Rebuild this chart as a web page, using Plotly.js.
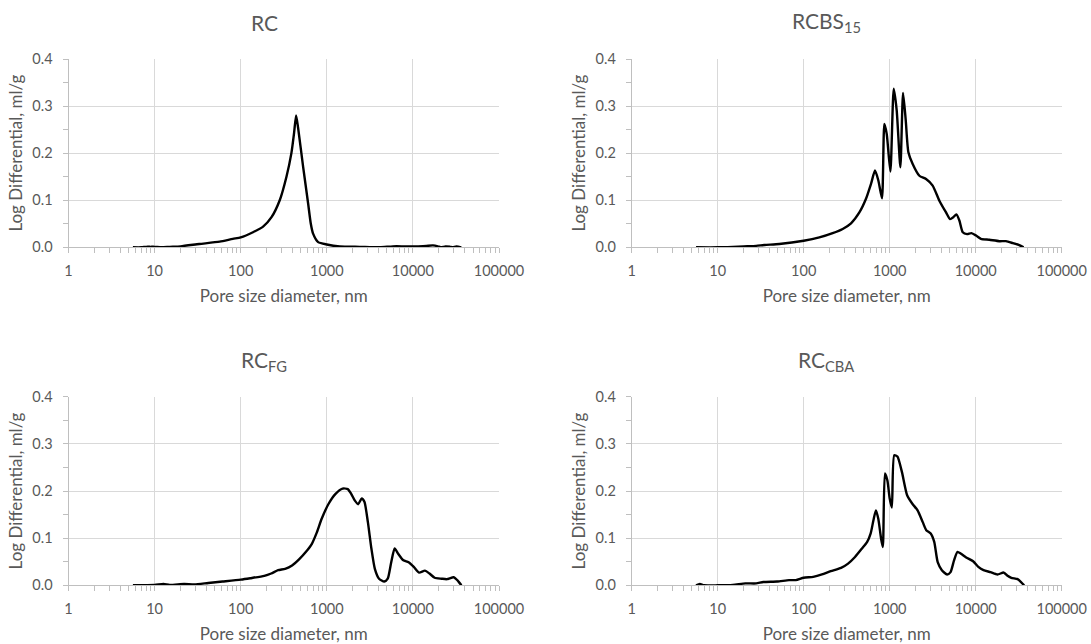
<!DOCTYPE html>
<html>
<head>
<meta charset="utf-8">
<script src="https://cdn.plot.ly/plotly-3.0.1.min.js"></script>
<style>html,body{margin:0;padding:0;background:#fff;}#chart{width:1091px;height:644px;}</style>
</head>
<body>
<div id="chart"></div>
<script>
// ---- Data ----
const panelTitles = ["RC", "RCBS<sub>15</sub>", "RC<sub>FG</sub>", "RC<sub>CBA</sub>"];
const xTickVals = [1, 10, 100, 1000, 10000, 100000];
const xTickText = ["1", "10", "100", "1000", "10000", "100000"];
const yTickVals = [0, 0.1, 0.2, 0.3, 0.4];
const yTickText = ["0.0", "0.1", "0.2", "0.3", "0.4"];
const xTitle = "Pore size diameter, nm";
const yTitle = "Log Differential, ml/g";

const rcX = [5.6, 7, 8, 9, 10, 12, 15, 20, 33, 57, 81, 100, 139, 182, 228, 284, 340, 388, 417, 440, 464, 531, 607, 652, 693, 794, 1000, 1416, 2420, 4130, 5850, 8000, 11000, 14300, 17100, 19500, 21000, 24000, 27000, 29000, 32000, 36500];
const rcY = [0, 0, 0.001, 0.001, 0.001, 0, 0.001, 0.002, 0.007, 0.012, 0.018, 0.021, 0.032, 0.044, 0.064, 0.1, 0.15, 0.2, 0.243, 0.28, 0.254, 0.171, 0.093, 0.05, 0.029, 0.011, 0.006, 0.002, 0.001, 0, 0.002, 0.002, 0.002, 0.003, 0.004, 0.002, 0, 0.002, 0.001, 0, 0.002, 0];

const rcbsX = [5.6, 10, 15, 20, 28, 35, 52, 100, 152, 217, 284, 355, 444, 530, 607, 675, 738, 814, 867, 923, 1019, 1114, 1206, 1331, 1430, 1536, 1649, 1850, 2213, 2645, 3160, 3780, 4520, 5030, 5500, 5960, 6460, 7070, 7940, 8910, 10100, 11500, 14400, 18800, 22500, 26900, 31600, 36100];
const rcbsY = [0, 0, 0.001, 0.002, 0.003, 0.005, 0.007, 0.014, 0.021, 0.03, 0.039, 0.051, 0.074, 0.103, 0.135, 0.163, 0.142, 0.104, 0.262, 0.241, 0.161, 0.337, 0.291, 0.17, 0.328, 0.27, 0.202, 0.177, 0.152, 0.145, 0.131, 0.099, 0.074, 0.06, 0.064, 0.07, 0.057, 0.032, 0.028, 0.03, 0.025, 0.018, 0.016, 0.013, 0.013, 0.009, 0.005, 0];

const fgX = [5.6, 10, 12.7, 15, 22, 29, 42, 61.5, 100, 129, 188, 226, 272, 328, 395, 476, 573, 671, 758, 872, 1050, 1264, 1523, 1750, 1920, 2110, 2312, 2540, 2735, 3000, 3295, 3615, 4044, 4650, 5100, 5600, 6140, 6740, 7750, 8910, 10240, 11780, 13800, 15570, 17900, 21570, 24790, 29850, 32750, 36600];
const fgY = [0, 0.001, 0.003, 0.001, 0.003, 0.002, 0.005, 0.008, 0.012, 0.015, 0.02, 0.025, 0.032, 0.035, 0.042, 0.055, 0.071, 0.088, 0.11, 0.141, 0.173, 0.194, 0.205, 0.204, 0.194, 0.18, 0.172, 0.184, 0.177, 0.134, 0.078, 0.035, 0.014, 0.008, 0.014, 0.049, 0.078, 0.067, 0.053, 0.049, 0.039, 0.027, 0.031, 0.025, 0.016, 0.014, 0.013, 0.017, 0.011, 0];

const cbaX = [5.6, 6.2, 6.9, 10, 15, 21, 28, 34, 49, 67.5, 81, 100, 129, 163, 206, 272, 328, 395, 476, 547, 601, 647, 691, 737, 794, 832, 880, 939, 1000, 1059, 1130, 1230, 1388, 1595, 1834, 2110, 2423, 2660, 3000, 3295, 3615, 4040, 4645, 5100, 5600, 6140, 6740, 7750, 9330, 10730, 12330, 14850, 17900, 21170, 23220, 25960, 30690, 33650, 36600];
const cbaY = [0, 0.003, 0, 0, 0.001, 0.004, 0.004, 0.007, 0.008, 0.011, 0.011, 0.016, 0.018, 0.023, 0.03, 0.037, 0.046, 0.06, 0.078, 0.092, 0.11, 0.138, 0.159, 0.141, 0.099, 0.081, 0.237, 0.223, 0.184, 0.165, 0.276, 0.273, 0.24, 0.191, 0.173, 0.159, 0.134, 0.117, 0.11, 0.092, 0.049, 0.032, 0.023, 0.028, 0.053, 0.071, 0.067, 0.059, 0.051, 0.039, 0.032, 0.028, 0.023, 0.027, 0.021, 0.016, 0.013, 0.007, 0];

const seriesX = [rcX, rcbsX, fgX, cbaX];
const seriesY = [rcY, rcbsY, fgY, cbaY];

// ---- Layout geometry ----
const W = 1091, H = 644;
const colDom = [[68.5 / W, 499 / W], [631.7 / W, 1061.7 / W]];
const rowDom = [[1 - 247.3 / H, 1 - 59 / H], [1 - 585.3 / H, 1 - 396.7 / H]];
const FONT = "Lato, 'Open Sans', sans-serif";
const TXT = "#595959";

const traces = [];
const layout = {
  width: W, height: H,
  margin: {l: 0, r: 0, t: 0, b: 0},
  paper_bgcolor: "#ffffff", plot_bgcolor: "#ffffff",
  showlegend: false,
  font: {family: FONT, color: TXT, size: 14},
  annotations: []
};

for (let i = 0; i < 4; i++) {
  const col = i % 2, row = Math.floor(i / 2);
  const sfx = i === 0 ? "" : String(i + 1);
  traces.push({
    x: seriesX[i], y: seriesY[i],
    type: "scatter", mode: "lines",
    line: {color: "#000000", width: 2.4, shape: "spline", smoothing: 0.6},
    xaxis: "x" + sfx, yaxis: "y" + sfx,
    hoverinfo: "x+y"
  });
  layout["xaxis" + sfx] = {
    type: "log", range: [0, 5], domain: colDom[col], anchor: "y" + sfx,
    tickvals: xTickVals, ticktext: xTickText,
    ticks: "outside", ticklen: 5, tickcolor: "#bfbfbf", tickwidth: 1,
    ticklabelstandoff: 5,
    minor: {ticks: "outside", ticklen: 5, tickcolor: "#bfbfbf", dtick: "D1", showgrid: false},
    showgrid: true, gridcolor: "#d9d9d9", gridwidth: 1,
    showline: true, linecolor: "#bfbfbf", linewidth: 1,
    zeroline: false,
    tickfont: {family: FONT, size: 14.5, color: TXT},
    title: {text: xTitle, font: {family: FONT, size: 17, color: TXT}, standoff: 12},
    automargin: false, fixedrange: true
  };
  layout["yaxis" + sfx] = {
    range: [0, 0.4], domain: rowDom[row], anchor: "x" + sfx,
    tickvals: yTickVals, ticktext: yTickText,
    ticks: "outside", ticklen: 5, tickcolor: "#bfbfbf", tickwidth: 1,
    ticklabelstandoff: 7,
    minor: {ticks: "outside", ticklen: 5, tickcolor: "#bfbfbf", dtick: 0.05, showgrid: false},
    showgrid: true, gridcolor: "#d9d9d9", gridwidth: 1,
    showline: true, linecolor: "#bfbfbf", linewidth: 1,
    zeroline: false,
    tickfont: {family: FONT, size: 14.5, color: TXT},
    title: {text: yTitle, font: {family: FONT, size: 17, color: TXT}, standoff: 5},
    automargin: false, fixedrange: true
  };
  const titleX = [264 / W, 826 / W][col];
  const titleY = [1 - 22 / H, 1 - 361 / H][row];
  layout.annotations.push({
    text: panelTitles[i], xref: "paper", yref: "paper",
    x: titleX, y: titleY, xanchor: "center", yanchor: "middle",
    showarrow: false, font: {family: FONT, size: 21, color: TXT}
  });
}

Plotly.newPlot("chart", traces, layout, {staticPlot: true, displayModeBar: false});
</script>
</body>
</html>
